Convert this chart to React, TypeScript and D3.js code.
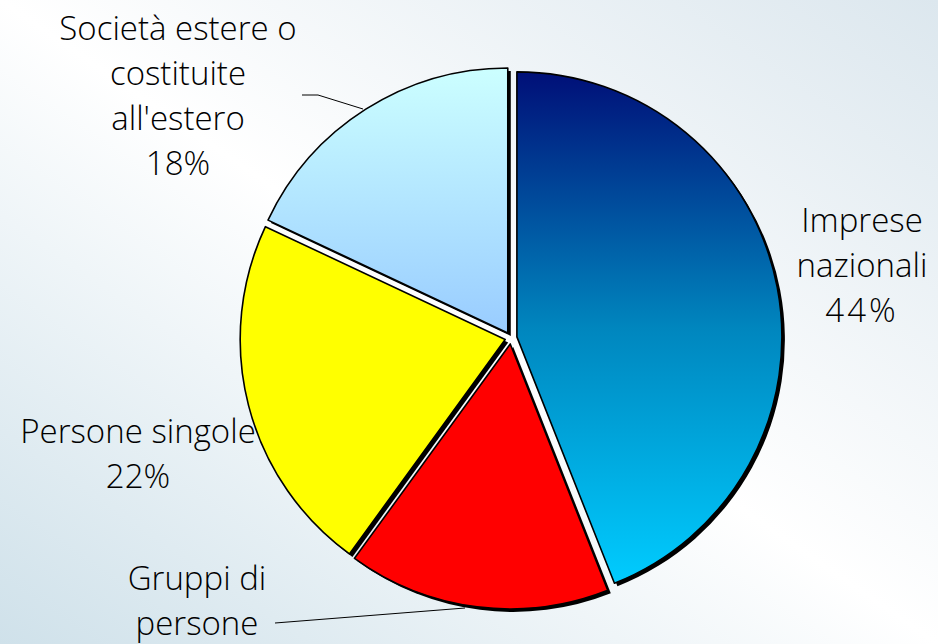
import { useEffect, useRef } from "react";
import * as d3 from "d3";

const categories = [
  "Imprese nazionali",
  "Gruppi di persone",
  "Persone singole",
  "Società estere o costituite all'estero",
];
const values = [44, 16, 22, 18];
const labelLines = [
  ["Imprese", "nazionali", "44%"],
  ["Gruppi di", "persone"],
  ["Persone singole", "22%"],
  ["Società estere o", "costituite", "all'estero", "18%"],
];

const W = 938;
const H = 644;

export default function App() {
  const svgRef = useRef<SVGSVGElement | null>(null);

  useEffect(() => {
    if (!svgRef.current) return;
    const svg = d3.select(svgRef.current);
    svg.selectAll("*").remove();

    const defs = svg.append("defs");
    const bg = defs
      .append("linearGradient")
      .attr("id", "bg")
      .attr("x1", 1)
      .attr("y1", 0)
      .attr("x2", 0)
      .attr("y2", 1);
    bg.append("stop").attr("offset", 0).attr("stop-color", "#dce7ee");
    bg.append("stop").attr("offset", 0.5).attr("stop-color", "#ffffff");
    bg.append("stop").attr("offset", 1).attr("stop-color", "#cfe1ea");

    const g1 = defs
      .append("linearGradient")
      .attr("id", "grad0")
      .attr("x1", 0)
      .attr("y1", 0)
      .attr("x2", 0)
      .attr("y2", 1);
    g1.append("stop").attr("offset", 0).attr("stop-color", "#000f78");
    g1.append("stop").attr("offset", 0.5).attr("stop-color", "#0086be");
    g1.append("stop").attr("offset", 1).attr("stop-color", "#00ccff");

    const g2 = defs
      .append("linearGradient")
      .attr("id", "grad3")
      .attr("x1", 0)
      .attr("y1", 0)
      .attr("x2", 0)
      .attr("y2", 1);
    g2.append("stop").attr("offset", 0).attr("stop-color", "#ccffff");
    g2.append("stop").attr("offset", 1).attr("stop-color", "#99ccff");

    const fills = ["url(#grad0)", "#ff0000", "#ffff00", "url(#grad3)"];

    svg.append("rect").attr("width", W).attr("height", H).attr("fill", "url(#bg)");

    const cx = 511;
    const cy = 338;
    const r = 265;
    const explode = 6;

    const pie = d3
      .pie<number>()
      .sort(null)
      .value((d) => d);
    const arcs = pie(values);
    const arc = d3.arc<d3.PieArcDatum<number>>().innerRadius(0).outerRadius(r);

    const g = svg.append("g").attr("transform", `translate(${cx},${cy})`);

    const off = (d: d3.PieArcDatum<number>) => {
      const a = (d.startAngle + d.endAngle) / 2;
      return [Math.sin(a) * explode, -Math.cos(a) * explode];
    };

    // shadows
    g.append("g")
      .selectAll("path")
      .data(arcs)
      .join("path")
      .attr("d", arc)
      .attr("transform", (d) => {
        const [dx, dy] = off(d);
        return `translate(${dx + 3},${dy + 3})`;
      })
      .attr("fill", "#000");

    g.append("g")
      .selectAll("path")
      .data(arcs)
      .join("path")
      .attr("d", arc)
      .attr("transform", (d) => {
        const [dx, dy] = off(d);
        return `translate(${dx},${dy})`;
      })
      .attr("fill", (_, i) => fills[i])
      .attr("stroke", "#000")
      .attr("stroke-width", 1.6)
      .attr("stroke-linejoin", "round");

    // leader lines
    svg
      .append("polyline")
      .attr("points", "302,95 318,95 363,109")
      .attr("fill", "none")
      .attr("stroke", "#000")
      .attr("stroke-width", 1);
    svg
      .append("line")
      .attr("x1", 275)
      .attr("y1", 623)
      .attr("x2", 465)
      .attr("y2", 608)
      .attr("stroke", "#000")
      .attr("stroke-width", 1);

    const labelPos = [
      { x: 862, y: 232 },
      { x: 197, y: 590 },
      { x: 138, y: 443 },
      { x: 178, y: 40 },
    ];

    labelLines.forEach((lines, i) => {
      const t = svg
        .append("text")
        .attr("x", labelPos[i].x)
        .attr("y", labelPos[i].y)
        .attr("text-anchor", "middle")
        .attr("font-family", "'Open Sans', sans-serif")
        .attr("font-weight", 300)
        .attr("font-size", 33)
        .attr("fill", "#000")
        .attr("aria-label", categories[i]);
      lines.forEach((ln, j) => {
        t.append("tspan")
          .attr("x", labelPos[i].x)
          .attr("dy", j === 0 ? 0 : 45)
          .attr("letter-spacing", i === 0 && j === 2 ? 3 : 0)
          .text(ln);
      });
    });
  }, []);

  return (
    <svg
      ref={svgRef}
      width={W}
      height={H}
      style={{ position: "absolute", left: 0, top: 0, display: "block" }}
    />
  );
}
